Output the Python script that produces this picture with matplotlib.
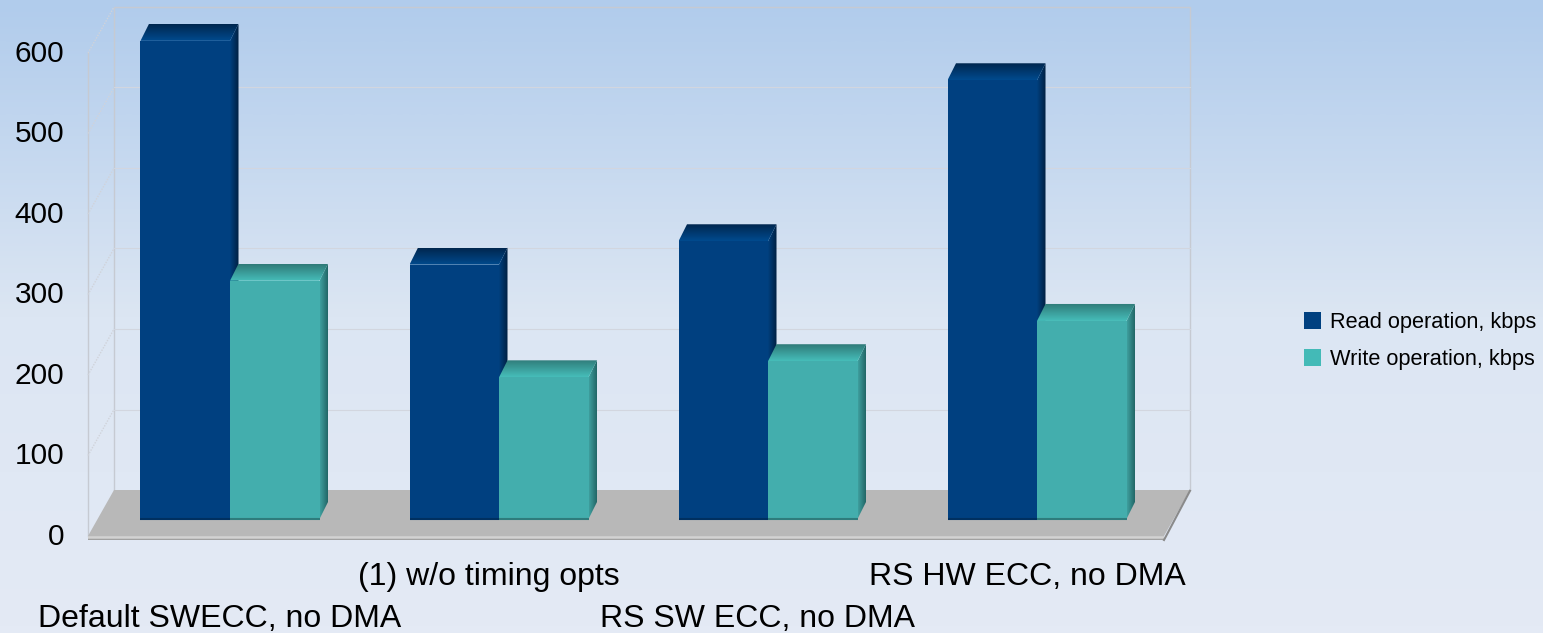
import numpy as np
import matplotlib
matplotlib.use("Agg")
import matplotlib.pyplot as plt
from matplotlib.colors import LinearSegmentedColormap
from matplotlib.patches import Patch, Polygon

# values
categories = ["Default SWECC, no DMA", "(1) w/o timing opts", "RS SW ECC, no DMA", "RS HW ECC, no DMA"]
read_kbps = [594, 316, 345, 545]
write_kbps = [296, 176, 196, 246]
y_ticks = [0, 100, 200, 300, 400, 500, 600]
series_names = ["Read operation, kbps", "Write operation, kbps"]

plt.rcParams['font.family'] = ['Liberation Sans', 'DejaVu Sans']

W, H = 1543, 633
PX_X = 269.0     # pixels per category
PX_Y = 0.805     # pixels per kbps
X0 = 230.0       # pixel of first category
Y0 = 519.0       # pixel of value 0 on the bar front

bar_w = 89.5 / PX_X
bar_dx = 8.5 / PX_X
bar_dy = 17 / PX_Y
wall_dx = 26 / PX_X
wall_dy = 46 / PX_Y
back_y = 29 / PX_Y        # back wall zero above bar zero
wall_left = (114 - X0) / PX_X
wall_right = (1190 - X0) / PX_X
front_y = back_y - wall_dy

fig = plt.figure(figsize=(W / 100, H / 100), dpi=100)
ax = fig.add_axes([0, 0, 1, 1])
ax.axis('off')


def gradient(verts, colors, horizontal, zorder):
    # polygon filled with a linear gradient
    verts = np.array(verts)
    cmap = LinearSegmentedColormap.from_list('g', colors)
    vals = np.linspace(0, 1, 64)
    img = vals.reshape(1, -1) if horizontal else vals.reshape(-1, 1)
    ext = [verts[:, 0].min(), verts[:, 0].max(), verts[:, 1].min(), verts[:, 1].max()]
    im = ax.imshow(img, cmap=cmap, extent=ext, origin='lower', aspect='auto', zorder=zorder, interpolation='bilinear')
    clip = Polygon(verts, transform=ax.transData, fc='none', ec='none')
    ax.add_patch(clip)
    im.set_clip_path(clip)


xlim = (-X0 / PX_X, (W - X0) / PX_X)
ylim = (-(H - Y0) / PX_Y, Y0 / PX_Y)

# page background
gradient([(xlim[0], ylim[0]), (xlim[1], ylim[0]), (xlim[1], ylim[1]), (xlim[0], ylim[1])],
         ['#E4EAF5', '#DCE6F3', '#B1CCEC'], False, 0)

# walls and grid
line_c = '#C6CAD2'
top = back_y + y_ticks[-1]
ax.plot([wall_left, wall_left, wall_right, wall_right], [back_y, top, top, back_y], color=line_c, lw=1, zorder=1)
ax.plot([wall_left - wall_dx] * 2, [front_y, top - wall_dy], color=line_c, lw=1, zorder=1)
ax.plot([wall_left - wall_dx, wall_left], [top - wall_dy, top], color='#D0D3DA', lw=1, ls=(0, (1, 1)), zorder=1)
for v in y_ticks[1:-1]:
    ax.plot([wall_left, wall_right], [back_y + v] * 2, color='#D2D6DF', lw=0.8, zorder=1)
    ax.plot([wall_left - wall_dx, wall_left], [back_y + v - wall_dy, back_y + v], color='#D0D3DA', lw=1, ls=(0, (1, 1)), zorder=1)

# floor
floor_l = wall_left - wall_dx
floor_r = wall_right - wall_dx
ax.add_patch(Polygon([(floor_l, front_y), (wall_left, back_y), (wall_right, back_y), (floor_r, front_y)],
                     fc='#B8B8B8', ec='none', zorder=2))
lip = 4 / PX_Y
gradient([(floor_l, front_y - lip), (floor_r, front_y - lip), (floor_r, front_y), (floor_l, front_y)],
         ['#8F8F8F', '#D8D8D8', '#C8C8C8'], False, 2.1)
ax.plot([floor_r, wall_right], [front_y - lip, back_y - 1], color='#8A8A8A', lw=1.5, zorder=2.2)

styles = [
    dict(front='#004080', top=['#004A8E', '#00274F'], side=['#00407F', '#001F40'], edge='#003060'),
    dict(front='#43AEAD', top=['#46BDB9', '#2F7A78'], side=['#3E9F9E', '#1F5F60'], edge='#2E7C7C'),
]


def draw_bar(x, v, st, z):
    left = x
    right = x + bar_w
    # side face
    gradient([(right, 0), (right + bar_dx, bar_dy), (right + bar_dx, v + bar_dy), (right, v)],
             st['side'], True, z)
    # top face
    gradient([(left, v), (right, v), (right + bar_dx, v + bar_dy), (left + bar_dx, v + bar_dy)],
             st['top'], False, z + 0.01)
    ax.bar(left, v, width=bar_w, align='edge', color=st['front'], linewidth=0, zorder=z + 0.02)
    ax.plot([left, right], [0, 0], color=st['edge'], lw=1.5, zorder=z + 0.03, solid_capstyle='butt')


z = 3
for i in range(len(categories)):
    draw_bar(i - bar_w, read_kbps[i], styles[0], z)
    draw_bar(i, write_kbps[i], styles[1], z + 0.1)
    z += 0.2

# y labels, sit on the front wall edge
for v in y_ticks:
    ax.annotate(str(v), xy=(xlim[0], v), xytext=(64, -18), textcoords='offset pixels',
                ha='right', va='center', fontsize=21.5, color='black', zorder=10)

# staggered category labels
cat_offset = [100, 58, 100, 58]
for i, name in enumerate(categories):
    ax.annotate(name, xy=(i, 0), xytext=(-10, -cat_offset[i]), textcoords='offset pixels',
                ha='center', va='center', fontsize=23, color='black', zorder=10)

ax.set_xlim(xlim)
ax.set_ylim(ylim)

handles = [Patch(fc=styles[0]['front'], ec='none'), Patch(fc='#43BAB7', ec='none')]
fig.legend(handles, series_names, loc='center left', bbox_to_anchor=(1304 / W, 1 - 341 / H), frameon=False,
           fontsize=15.65, handlelength=0.78, handleheight=0.78, handletextpad=0.42, labelspacing=0.74,
           borderpad=0, borderaxespad=0, labelcolor='black')

fig.savefig('out.png', dpi=100)
